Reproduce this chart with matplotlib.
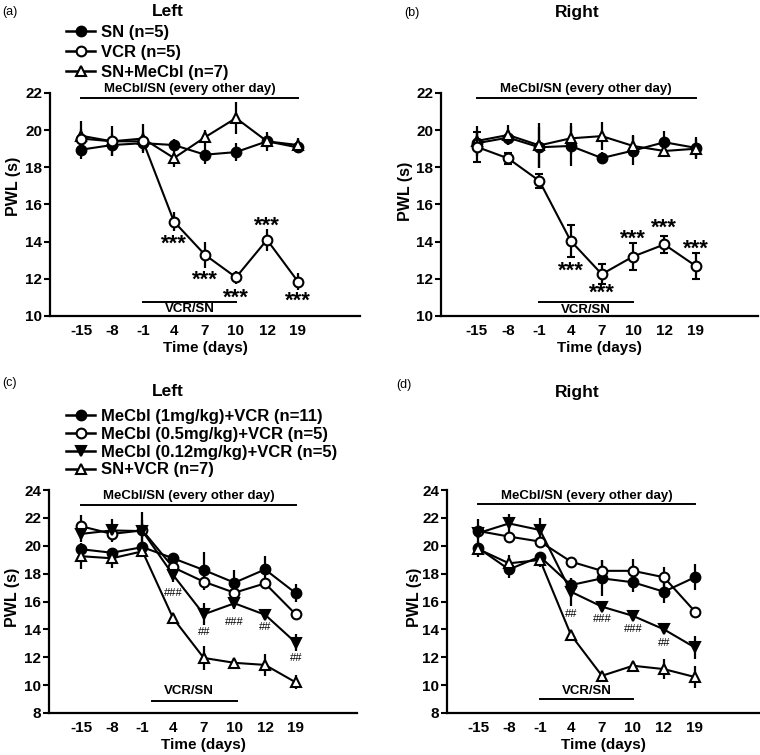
import matplotlib
matplotlib.use("Agg")
import matplotlib.pyplot as plt
from matplotlib.lines import Line2D
import numpy as np

plt.rcParams['font.family'] = ['Liberation Sans', 'DejaVu Sans']
plt.rcParams['font.weight'] = 'bold'

days = ['-15', '-8', '-1', '4', '7', '10', '12', '19']

# Panel (a) Left
a_sn = [18.95, 19.2, 19.3, 19.2, 18.68, 18.82, 19.4, 19.07]
a_sn_err = [0.5, 0.6, 0.4, 0.3, 0.5, 0.5, 0.3, 0.3]
a_vcr = [19.55, 19.4, 19.4, 15.08, 13.29, 12.08, 14.1, 11.85]
a_vcr_err = [0.5, 0.3, 0.5, 0.5, 0.7, 0.35, 0.6, 0.45]
a_mecbl = [19.7, 19.4, 19.55, 18.5, 19.62, 20.65, 19.4, 19.2]
a_mecbl_err = [0.8, 0.8, 0.8, 0.5, 0.4, 0.85, 0.5, 0.4]

# Panel (b) Right
b_sn = [19.3, 19.6, 19.08, 19.15, 18.5, 18.9, 19.35, 19.05]
b_sn_err = [0.6, 0.4, 1.1, 1.1, 0.3, 0.8, 0.6, 0.6]
b_vcr = [19.1, 18.48, 17.27, 14.05, 12.25, 13.2, 13.85, 12.7]
b_vcr_err = [0.8, 0.3, 0.38, 0.85, 0.55, 0.75, 0.45, 0.7]
b_mecbl = [19.42, 19.74, 19.18, 19.56, 19.68, 19.15, 18.88, 19.0]
b_mecbl_err = [0.8, 0.55, 1.2, 0.85, 0.75, 0.6, 0.3, 0.5]

# Panel (c) Left
c_1mg = [19.75, 19.5, 19.9, 19.1, 18.26, 17.35, 18.3, 16.6]
c_1mg_err = [0.3, 0.3, 0.3, 0.25, 1.3, 0.9, 1.0, 0.65]
c_05mg = [21.4, 20.85, 21.1, 18.45, 17.42, 16.63, 17.3, 15.08]
c_05mg_err = [0.8, 0.5, 1.3, 0.4, 0.6, 0.3, 0.3, 0.25]
c_012mg = [20.85, 21.1, 21.05, 17.9, 15.08, 15.87, 15.05, 13.05]
c_012mg_err = [0.6, 0.85, 0.8, 0.5, 0.8, 0.4, 0.2, 0.6]
c_snvcr = [19.25, 19.1, 19.6, 14.8, 11.95, 11.6, 11.45, 10.2]
c_snvcr_err = [0.95, 0.7, 0.3, 0.3, 0.85, 0.25, 0.8, 0.5]

# Panel (d) Right
d_1mg = [19.85, 18.3, 19.22, 17.18, 17.66, 17.38, 16.7, 17.74]
d_1mg_err = [0.3, 0.6, 0.3, 0.5, 1.3, 0.7, 0.8, 0.95]
d_05mg = [21.06, 20.66, 20.3, 18.86, 18.2, 18.2, 17.74, 15.28]
d_05mg_err = [0.3, 0.3, 0.3, 0.2, 0.8, 0.85, 0.75, 0.3]
d_012mg = [20.9, 21.6, 21.13, 16.7, 15.63, 14.97, 14.0, 12.7]
d_012mg_err = [1.05, 0.7, 0.85, 1.0, 0.2, 0.2, 0.2, 0.8]
d_snvcr = [19.77, 18.74, 18.98, 13.6, 10.67, 11.39, 11.15, 10.58]
d_snvcr_err = [0.6, 0.6, 0.5, 0.2, 0.15, 0.2, 0.7, 0.8]

labels_top = ['SN (n=5)', 'VCR (n=5)', 'SN+MeCbl (n=7)']
labels_bot = ['MeCbl (1mg/kg)+VCR (n=11)', 'MeCbl (0.5mg/kg)+VCR (n=5)',
              'MeCbl (0.12mg/kg)+VCR (n=5)', 'SN+VCR (n=7)']

# annotations: (day index, y centre, text)
a_stars = [(3, 14.1), (4, 12.16), (5, 11.22), (6, 15.08), (7, 11.04)]
b_stars = [(3, 12.66), (4, 11.45), (5, 14.36), (6, 14.96), (7, 13.83)]
c_hash = [(3, 16.66, '###'), (4, 13.88, '##'), (5, 14.62, '###'), (6, 14.24, '##'), (7, 12.04, '##')]
d_hash = [(3, 15.2, '##'), (4, 14.8, '###'), (5, 14.08, '###'), (6, 13.12, '##')]

W, H = 760, 755
fig = plt.figure(figsize=(W / 100, H / 100), dpi=100)

def pos(l, t, r, b):
    return [l / W, 1 - b / H, (r - l) / W, (b - t) / H]

styles = {
    'fc': dict(marker='o', mfc='black', mec='black'),
    'oc': dict(marker='o', mfc='white', mec='black'),
    'ut': dict(marker='^', mfc='white', mec='black'),
    'dt': dict(marker='v', mfc='black', mec='black'),
}

def series(ax, y, e, st, capsize=0, z=3):
    x = np.arange(len(days))
    ax.errorbar(x, y, yerr=e, color='black', lw=1.5, elinewidth=1.6,
                capsize=capsize, capthick=1.5, ms=7, mew=1.5,
                zorder=z, **styles[st])

def handle(st):
    return Line2D([], [], color='black', lw=1.8, ms=7, mew=1.5, **styles[st])

def setup(ax, ylim, yticks, xlim, ylab_x, ylab_y):
    ax.set_xlim(*xlim)
    ax.set_ylim(*ylim)
    ax.set_yticks(yticks)
    ax.set_xticks(np.arange(len(days)))
    ax.set_xticklabels(days)
    for s in ['top', 'right']:
        ax.spines[s].set_visible(False)
    for s in ['left', 'bottom']:
        ax.spines[s].set_linewidth(1.6)
    ax.tick_params(axis='y', direction='out', length=4, width=1.5, pad=1.5, labelsize=11)
    ax.tick_params(axis='x', length=0, pad=6, labelsize=11)
    for t in ax.get_xticklabels() + ax.get_yticklabels():
        t.set_fontweight('bold')
    ax.set_ylabel('PWL (s)', fontsize=11.5, fontweight='bold')
    ax.set_xlabel('Time (days)', fontsize=11, fontweight='bold', labelpad=2)
    ax.yaxis.set_label_coords(ylab_x, ylab_y)

def mark(ax, i, y, t, fs, frac, weight):
    ax.annotate(t, (i, y), xytext=(0, -frac * fs), textcoords='offset points',
                ha='center', va='baseline', fontsize=fs, fontweight=weight)

def top_line(ax, y, ty):
    ax.plot([0, 7], [y, y], color='black', lw=1.4, zorder=2)
    ax.text(3.5, ty, 'MeCbl/SN (every other day)', ha='center', va='center',
            fontsize=9.5, fontweight='bold')

def vcr_line(ax, x0, x1, y, ty):
    ax.plot([x0, x1], [y, y], color='black', lw=1.4, zorder=2)
    ax.text(3.5, ty, 'VCR/SN', ha='center', va='center', fontsize=9.5, fontweight='bold')

# ---------- (a)
ax = fig.add_axes(pos(50, 93, 360, 316))
series(ax, a_sn, a_sn_err, 'fc')
series(ax, a_vcr, a_vcr_err, 'oc', z=4)
series(ax, a_mecbl, a_mecbl_err, 'ut')
setup(ax, (10, 22), [10, 12, 14, 16, 18, 20, 22], (-1, 9.0), -0.095, 0.58)
top_line(ax, 21.73, 22.2)
vcr_line(ax, 2, 5, 10.74, 10.38)
for i, y in a_stars:
    mark(ax, i, y, '***', 16, 0.45, 'bold')
fig.legend([handle('fc'), handle('oc'), handle('ut')], labels_top,
           loc='upper left', bbox_to_anchor=(66 / W, 1 - 25 / H),
           frameon=False, handlelength=1.75, handletextpad=0.35,
           labelspacing=0.3, borderpad=0, borderaxespad=0,
           prop=dict(weight='bold', size=12))

# ---------- (b)
ax = fig.add_axes(pos(441, 93, 758, 316))
series(ax, b_sn, b_sn_err, 'fc')
series(ax, b_vcr, b_vcr_err, 'oc', capsize=3, z=4)
series(ax, b_mecbl, b_mecbl_err, 'ut')
setup(ax, (10, 22), [10, 12, 14, 16, 18, 20, 22], (-1.15, 9.0), -0.088, 0.56)
top_line(ax, 21.73, 22.2)
vcr_line(ax, 2, 5, 10.74, 10.3)
for i, y in b_stars:
    mark(ax, i, y, '***', 16, 0.45, 'bold')

# ---------- (c)
ax = fig.add_axes(pos(49, 490, 357, 713))
series(ax, c_1mg, c_1mg_err, 'fc')
series(ax, c_05mg, c_05mg_err, 'oc')
series(ax, c_012mg, c_012mg_err, 'dt')
series(ax, c_snvcr, c_snvcr_err, 'ut')
setup(ax, (8, 24), [8, 10, 12, 14, 16, 18, 20, 22, 24], (-1.05, 9.0), -0.095, 0.52)
top_line(ax, 22.93, 23.57)
vcr_line(ax, 2.3, 5.08, 8.88, 9.55)
for i, y, t in c_hash:
    mark(ax, i, y, t, 8, 0.36, 'normal')
fig.legend([handle('fc'), handle('oc'), handle('dt'), handle('ut')], labels_bot,
           loc='upper left', bbox_to_anchor=(66 / W, 1 - 409 / H),
           frameon=False, handlelength=1.75, handletextpad=0.35,
           labelspacing=0.17, borderpad=0, borderaxespad=0,
           prop=dict(weight='bold', size=12))

# ---------- (d)
ax = fig.add_axes(pos(447, 490, 760, 713))
series(ax, d_1mg, d_1mg_err, 'fc')
series(ax, d_05mg, d_05mg_err, 'oc')
series(ax, d_012mg, d_012mg_err, 'dt')
series(ax, d_snvcr, d_snvcr_err, 'ut')
setup(ax, (8, 24), [8, 10, 12, 14, 16, 18, 20, 22, 24], (-1.0, 9.1), -0.08, 0.52)
top_line(ax, 22.97, 23.6)
vcr_line(ax, 2, 5, 9.0, 9.6)
for i, y, t in d_hash:
    mark(ax, i, y, t, 8, 0.36, 'normal')

# titles and panel labels
fig.text(168 / W, 1 - 11 / H, 'Left', ha='center', va='center', fontsize=12.5, fontweight='bold')
fig.text(577 / W, 1 - 12 / H, 'Right', ha='center', va='center', fontsize=12.5, fontweight='bold')
fig.text(168 / W, 1 - 392 / H, 'Left', ha='center', va='center', fontsize=12.5, fontweight='bold')
fig.text(577 / W, 1 - 393 / H, 'Right', ha='center', va='center', fontsize=12.5, fontweight='bold')
for x, y, t in [(2, 12, '(a)'), (404, 13, '(b)'), (2, 383, '(c)'), (396, 385, '(d)')]:
    fig.text(x / W, 1 - y / H, t, ha='left', va='center', fontsize=9, fontweight='normal')

fig.savefig('out.png', dpi=100)
